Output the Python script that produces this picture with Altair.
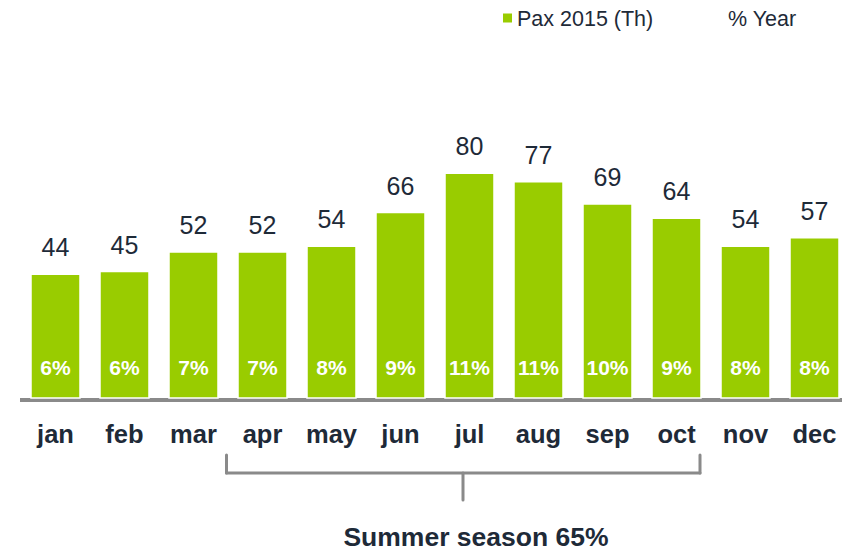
import altair as alt
import pandas as pd

months = ["jan", "feb", "mar", "apr", "may", "jun", "jul", "aug", "sep", "oct", "nov", "dec"]
pax = [44, 45, 52, 52, 54, 66, 80, 77, 69, 64, 54, 57]
share = ["6%", "6%", "7%", "7%", "8%", "9%", "11%", "11%", "10%", "9%", "8%", "8%"]
legend_labels = ["Pax 2015 (Th)", "% Year"]
season_label = "Summer season 65%"

df = pd.DataFrame({"month": months, "pax": pax, "share": share})

GREEN = "#99CC00"
DARK = "#1E2A38"
GRAY = "#8A8A8A"
FONT = "Liberation Sans"

x = alt.X("month:N", sort=months, axis=None,
          scale=alt.Scale(range=[23, 831], paddingInner=0.29, paddingOuter=0))
yscale = alt.Scale(domain=[0, 100], range=[390, 109])
y = alt.Y("pax:Q", axis=None, scale=yscale)

base = alt.Chart(df)

bars = base.mark_bar(color=GREEN, stroke="white", strokeWidth=1.5).encode(x=x, y=y)

values = base.mark_text(font=FONT, fontSize=25, color=DARK, baseline="alphabetic", dy=-18).encode(
    x=x, y=y, text="pax:Q")

pct = base.mark_text(font=FONT, fontSize=21, fontWeight="bold", color="white",
                     baseline="alphabetic", dy=-23).encode(
    x=x, y=alt.datum(0, scale=yscale), text="share:N")

month_lbl = base.mark_text(font=FONT, fontSize=25.5, fontWeight="bold", color=DARK,
                           baseline="alphabetic").encode(
    x=x, y=alt.value(435), text="month:N")

one = pd.DataFrame({"a": [0]})
axis_line = alt.Chart(one).mark_rule(color=GRAY, strokeWidth=4).encode(
    x=alt.value(12), x2=alt.value(842), y=alt.value(392))

bstyle = dict(color=GRAY, strokeWidth=3, strokeCap="round")
br_left = alt.Chart(one).mark_rule(**bstyle).encode(x=alt.value(218.5), y=alt.value(447), y2=alt.value(465))
br_right = alt.Chart(one).mark_rule(**bstyle).encode(x=alt.value(692), y=alt.value(447), y2=alt.value(465))
br_h = alt.Chart(one).mark_rule(**bstyle).encode(x=alt.value(218.5), x2=alt.value(692), y=alt.value(465))
br_c = alt.Chart(one).mark_rule(**bstyle).encode(x=alt.value(455), y=alt.value(465), y2=alt.value(492))

season = alt.Chart(pd.DataFrame({"t": [season_label]})).mark_text(
    font=FONT, fontSize=26.5, fontWeight="bold", color=DARK, baseline="alphabetic").encode(
    x=alt.value(468), y=alt.value(538), text="t:N")

leg_sq = alt.Chart(one).mark_square(color=GREEN, size=81, opacity=1).encode(
    x=alt.value(499.5), y=alt.value(10))
leg_df = pd.DataFrame({"t": legend_labels, "px": [509, 720]})
leg_txt = alt.Chart(leg_df).mark_text(font=FONT, fontSize=21.5, color=DARK, align="left",
                                      baseline="alphabetic").encode(
    x=alt.X("px:Q", scale=None), y=alt.value(18), text="t:N")

chart = alt.layer(axis_line, bars, values, pct, month_lbl, br_left, br_right, br_h, br_c,
                  season, leg_sq, leg_txt).properties(
    width=834, height=544, autosize=alt.AutoSizeParams(type="none"), padding=0,
    background="white"
).configure_view(stroke=None)

chart.save("out.html", embed_options={"renderer": "svg", "actions": False})
